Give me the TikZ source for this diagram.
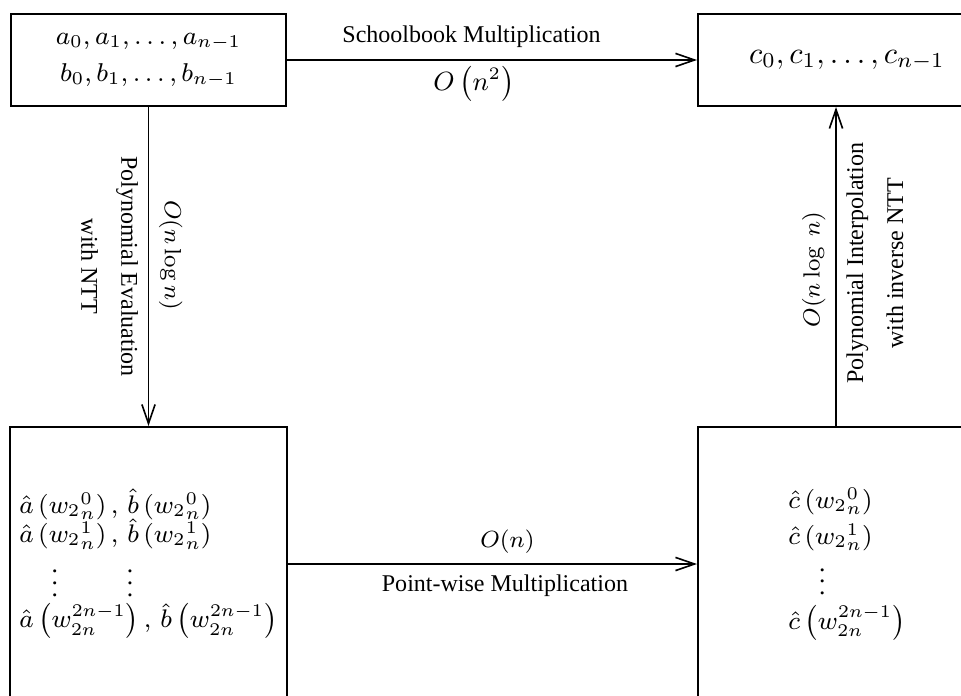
\documentclass[tikz,border=0pt]{standalone}
\usepackage{fix-cm}
\usepackage[no-math]{fontspec}
\setmainfont{Liberation Serif}
\usetikzlibrary{arrows.meta, positioning}
\tikzset{
  box/.style={
    rectangle, draw=black, line width=0.7pt,
    minimum width=3.3cm, minimum height=1.104cm,
    align=center
  },
  widebox/.style={box, minimum width=3.576cm},
  tallbox/.style={box, minimum height=3.288cm, align=left,
    font={\fontsize{8.7}{10}\selectfont\setlength{\lineskiplimit}{-20pt}}},
  arrow/.style={-{Straight Barb[length=6.5pt,width=4.5pt]}, line width=0.55pt},
  cost/.style={font=\fontsize{8}{9.6}\selectfont},
  note/.style={font=\fontsize{8.2}{13.6}\selectfont, align=center},
}
\begin{document}
\begin{tikzpicture}
  \useasboundingbox (0,0) rectangle (11.532,-8.34);

  \node[box, font=\fontsize{8.8}{12.2}\selectfont] (ab) at (1.782,-0.72)
    {$a_0, a_1, \ldots, a_{n-1}$\\[0.4pt]$b_0, b_1, \ldots, b_{n-1}$};
  \node[widebox, font=\fontsize{10.4}{12.5}\selectfont] (c) at (10.164,-0.72)
    {$c_0, c_1, \ldots, c_{n-1}$};
  \node[tallbox] (abhat) at (1.782,-6.768)
    {$\hat{a}\left({w_2}_n^0\right),\,\hat{b}\left({w_2}_n^0\right)$\\
     $\hat{a}\left({w_2}_n^1\right),\,\hat{b}\left({w_2}_n^1\right)$\\[8.2pt]
     \hspace*{11pt}$\vdots$\hspace{23.5pt}$\vdots$\\[0.8pt]
     $\hat{a}\left(w_{2n}^{2n-1}\right),\,\hat{b}\left(w_{2n}^{2n-1}\right)$};
  \node[tallbox, minimum width=3.576cm] (chat) at (10.164,-6.768)
    {$\hat{c}\left({w_2}_n^0\right)$\\[2.3pt]
     $\hat{c}\left({w_2}_n^1\right)$\\[7.2pt]
     \hspace*{10.5pt}$\vdots$\\[1.8pt]
     $\hat{c}\left(w_{2n}^{2n-1}\right)$};

  \draw[arrow] (ab) -- (c)
    node[pos=0.45, above=0.5pt, note] {Schoolbook Multiplication}
    node[pos=0.456, below=-1.5pt, font=\fontsize{9}{11}\selectfont] {$O\left(n^2\right)$};
  \draw[arrow] (ab) -- (abhat)
    node[midway, rotate=-90, anchor=north, note] {Polynomial Evaluation\\with NTT}
    node[pos=0.464, rotate=-90, anchor=south, cost] {$O(n\log n)$};
  \draw[arrow] (abhat) -- (chat)
    node[pos=0.536, above, cost] {$O(n)$}
    node[pos=0.53, below, note] {Point-wise Multiplication};
  \draw[arrow] ([xshift=-0.132cm]chat.north) -- ([xshift=-0.132cm]c.south)
    node[pos=0.49, rotate=90, anchor=south, cost] {$O(n\log\ n)$}
    node[pos=0.51, rotate=90, anchor=north, note] {Polynomial Interpolation\\with inverse NTT};
\end{tikzpicture}
\end{document}
